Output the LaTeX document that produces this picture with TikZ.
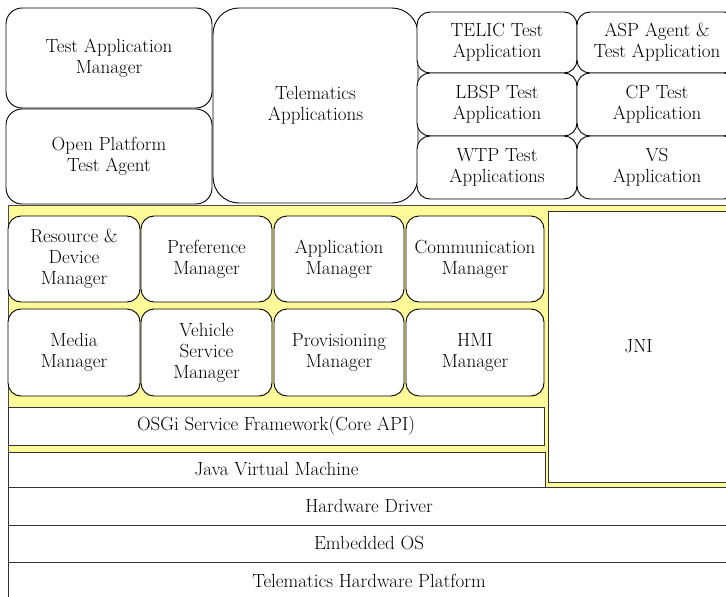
\documentclass[tikz,border=0pt]{standalone}
\usepackage{fontspec}
\begin{document}
\begin{tikzpicture}[x=1pt,y=-1pt,
  every node/.style={font=\fontsize{19}{21}\selectfont, align=center, inner sep=0pt, outer sep=0pt},
  rbox/.style={draw=black, line width=0.9pt, rounded corners=13pt, fill=white},
  bigbox/.style={rbox, rounded corners=16pt},
  hugebox/.style={rbox, rounded corners=26pt},
  layer/.style={draw=black!80, line width=0.9pt, fill=white},
  yellowzone/.style={draw=black!70, line width=0.9pt, fill=yellow!40}
]
\clip (0,0) rectangle (726,597);
\fill[white] (0,0) rectangle (726,597);
% top-left
\node[bigbox, minimum width=206pt, minimum height=100pt] (tam) at (109,58) {Test Application\\Manager};
\node[bigbox, minimum width=206pt, minimum height=95pt] (opta) at (109,156.5) {Open Platform\\Test Agent};
\node[hugebox, minimum width=205pt, minimum height=195pt] (tel) at (315.5,105.5) {Telematics\\Applications};
% top-right grid
\node[rbox, minimum width=160pt, minimum height=61pt] (telic) at (497,42.5) {TELIC Test\\Application};
\node[rbox, minimum width=160pt, minimum height=61pt] (asp) at (657,42.5) {ASP Agent \&\\Test Application};
\node[rbox, minimum width=160pt, minimum height=63pt] (lbsp) at (497,104.5) {LBSP Test\\Application};
\node[rbox, minimum width=160pt, minimum height=63pt] (cp) at (657,104.5) {CP Test\\Application};
\node[rbox, minimum width=160pt, minimum height=63pt] (wtp) at (497,167.5) {WTP Test\\Applications};
\node[rbox, minimum width=160pt, minimum height=63pt] (vs) at (657,167.5) {VS\\Application};
% yellow zone
\node[yellowzone, minimum width=722pt, minimum height=282pt] (zone) at (369,346) {};
\node[layer, minimum width=181pt, minimum height=271pt] (jni) at (638.5,346.5) {JNI};
% modules
\node[rbox, minimum width=132pt, minimum height=86pt] (rdm) at (74,259) {Resource \&\\Device\\Manager};
\node[rbox, minimum width=131pt, minimum height=86pt] (pm) at (206.5,259) {Preference\\Manager};
\node[rbox, minimum width=130pt, minimum height=86pt] (am) at (339,259) {Application\\Manager};
\node[rbox, minimum width=138pt, minimum height=86pt] (cm) at (475,259) {Communication\\Manager};
\node[rbox, minimum width=132pt, minimum height=87pt] (mm) at (74,352.5) {Media\\Manager};
\node[rbox, minimum width=131pt, minimum height=87pt] (vsm) at (206.5,352.5) {Vehicle\\Service\\Manager};
\node[rbox, minimum width=130pt, minimum height=87pt] (prm) at (339,352.5) {Provisioning\\Manager};
\node[rbox, minimum width=138pt, minimum height=87pt] (hmi) at (475,352.5) {HMI\\Manager};
% layers
\node[layer, minimum width=536pt, minimum height=38pt] (osgi) at (276,426) {OSGi Service Framework(Core API)};
\node[layer, minimum width=537pt, minimum height=35pt] (jvm) at (276.5,469.5) {Java Virtual Machine};
\node[layer, minimum width=722pt, minimum height=38pt] (hwd) at (369,506) {Hardware Driver};
\node[layer, minimum width=722pt, minimum height=37pt] (eos) at (369,543.5) {Embedded OS};
\node[layer, minimum width=722pt, minimum height=38pt] (thp) at (369,581) {Telematics Hardware Platform};
\end{tikzpicture}
\end{document}
